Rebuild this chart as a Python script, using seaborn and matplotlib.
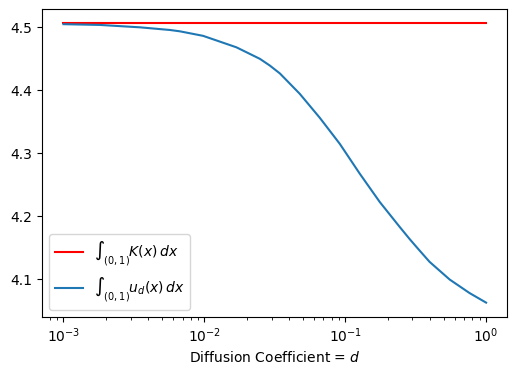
import matplotlib
matplotlib.use("Agg")
import matplotlib.pyplot as plt
import seaborn as sns
import pandas as pd

# Data
d_values = [0.001, 0.00182, 0.0035, 0.0057, 0.0067, 0.0098, 0.0169, 0.0248,
            0.0292, 0.0344, 0.0476, 0.0660, 0.0915, 0.1076, 0.1268, 0.1758,
            0.2436, 0.287, 0.328, 0.397, 0.551, 0.763, 1.0]
u_integral = [4.5050, 4.5038, 4.5000, 4.4958, 4.4937, 4.4865, 4.4683, 4.4500,
              4.4393, 4.4268, 4.3945, 4.3565, 4.3152, 4.2917, 4.2679, 4.2230,
              4.1834, 4.1640, 4.1490, 4.1280, 4.1000, 4.0785, 4.0633]
K_integral = 4.5063
K_d = [0.001, 1.0]

label_K = r'$\int_{(0,1)} K(x)\,dx$'
label_u = r'$\int_{(0,1)} u_d(x)\,dx$'

df_u = pd.DataFrame({"d": d_values, "val": u_integral})
df_K = pd.DataFrame({"d": K_d, "val": [K_integral] * len(K_d)})

plt.rcParams.update(plt.rcParamsDefault)
fig = plt.figure(figsize=(5.16, 3.76), dpi=100)
ax = fig.add_axes([0.082, 0.158, 0.901, 0.817])

sns.lineplot(data=df_K, x="d", y="val", color="red", label=label_K, ax=ax)
sns.lineplot(data=df_u, x="d", y="val", color="#1f77b4", label=label_u, ax=ax)

ax.set_xscale("log")
ax.set_xlabel("Diffusion Coefficient = $d$")
ax.set_ylabel("")
ax.set_yticks([4.1, 4.2, 4.3, 4.4, 4.5])
ax.legend(loc="lower left", fontsize=10)

fig.savefig("out.png", dpi=100)
